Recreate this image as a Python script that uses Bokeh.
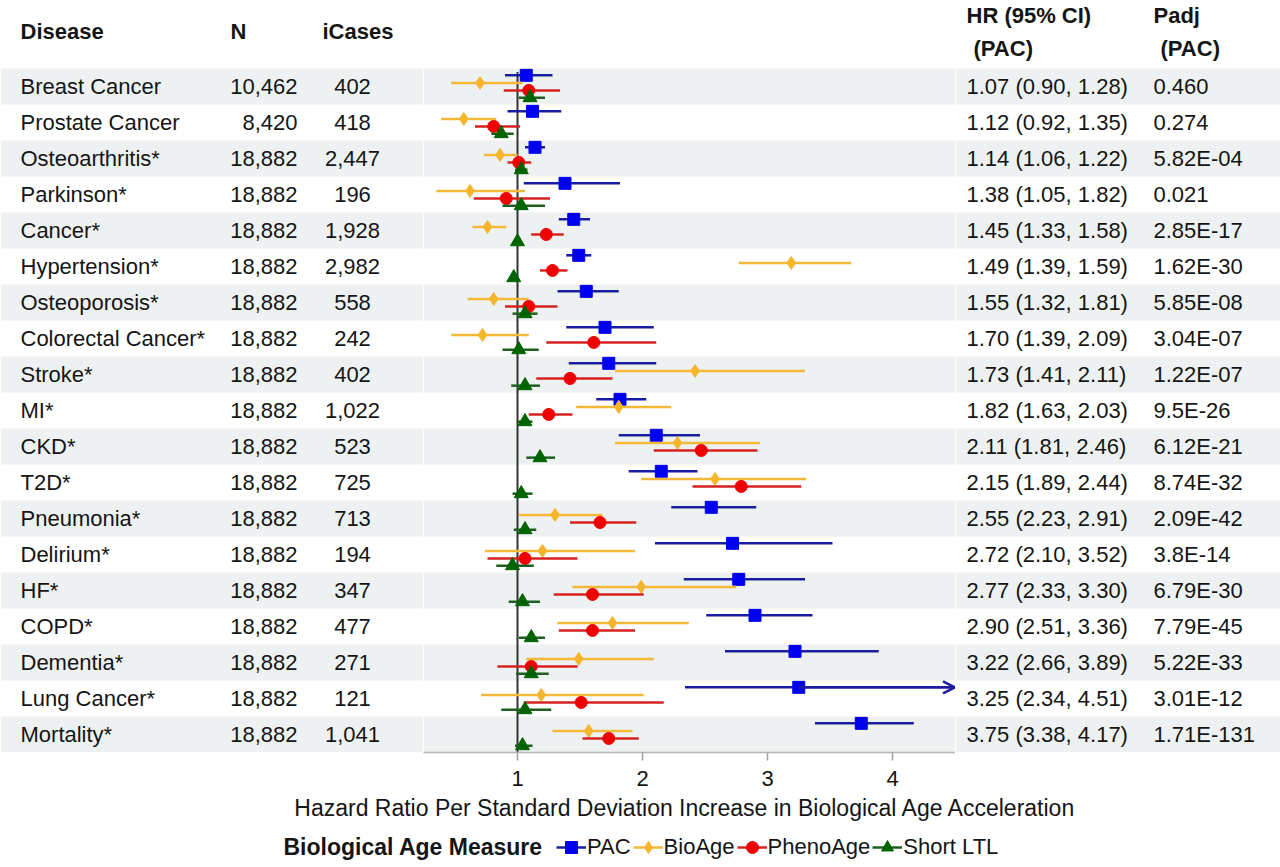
from bokeh.plotting import figure
from bokeh.layouts import row, column
from bokeh.models import (Range1d, LinearAxis, FixedTicker, ColumnDataSource,
                          Legend, LegendItem, Arrow, OpenHead)
from bokeh.core.properties import value
from bokeh.embed import file_html
from bokeh.resources import INLINE

# ---------------- data ----------------
diseases = ["Breast Cancer", "Prostate Cancer", "Osteoarthritis*", "Parkinson*", "Cancer*",
            "Hypertension*", "Osteoporosis*", "Colorectal Cancer*", "Stroke*", "MI*", "CKD*",
            "T2D*", "Pneumonia*", "Delirium*", "HF*", "COPD*", "Dementia*", "Lung Cancer*",
            "Mortality*"]
n_total = ["10,462", "8,420"] + ["18,882"] * 17
icases = ["402", "418", "2,447", "196", "1,928", "2,982", "558", "242", "402", "1,022", "523",
          "725", "713", "194", "347", "477", "271", "121", "1,041"]
padj = ["0.460", "0.274", "5.82E-04", "0.021", "2.85E-17", "1.62E-30", "5.85E-08", "3.04E-07",
        "1.22E-07", "9.5E-26", "6.12E-21", "8.74E-32", "2.09E-42", "3.8E-14", "6.79E-30",
        "7.79E-45", "5.22E-33", "3.01E-12", "1.71E-131"]

pac_hr = [1.07, 1.12, 1.14, 1.38, 1.45, 1.49, 1.55, 1.70, 1.73, 1.82, 2.11, 2.15, 2.55, 2.72, 2.77, 2.90, 3.22, 3.25, 3.75]
pac_lo = [0.90, 0.92, 1.06, 1.05, 1.33, 1.39, 1.32, 1.39, 1.41, 1.63, 1.81, 1.89, 2.23, 2.10, 2.33, 2.51, 2.66, 2.34, 3.38]
pac_hi = [1.28, 1.35, 1.22, 1.82, 1.58, 1.59, 1.81, 2.09, 2.11, 2.03, 2.46, 2.44, 2.91, 3.52, 3.30, 3.36, 3.89, 4.51, 4.17]

bio_hr = [0.70, 0.57, 0.86, 0.62, 0.76, 3.19, 0.81, 0.72, 2.42, 1.81, 2.28, 2.58, 1.30, 1.20, 1.99, 1.76, 1.49, 1.19, 1.57]
bio_lo = [0.47, 0.39, 0.73, 0.35, 0.64, 2.77, 0.60, 0.47, 1.78, 1.47, 1.78, 1.99, 1.01, 0.74, 1.44, 1.32, 1.07, 0.71, 1.28]
bio_hi = [1.04, 0.83, 1.00, 1.06, 0.91, 3.67, 1.09, 1.09, 3.30, 2.23, 2.94, 3.31, 1.68, 1.94, 2.75, 2.37, 2.09, 2.01, 1.92]

pheno_hr = [1.09, 0.81, 1.01, 0.91, 1.23, 1.28, 1.09, 1.61, 1.42, 1.25, 2.47, 2.79, 1.66, 1.06, 1.60, 1.60, 1.11, 1.51, 1.73]
pheno_lo = [0.89, 0.66, 0.92, 0.65, 1.11, 1.18, 0.90, 1.23, 1.15, 1.09, 2.09, 2.40, 1.42, 0.76, 1.29, 1.33, 0.84, 1.05, 1.52]
pheno_hi = [1.34, 1.02, 1.11, 1.26, 1.37, 1.40, 1.32, 2.11, 1.76, 1.44, 2.92, 3.27, 1.95, 1.48, 2.01, 1.94, 1.48, 2.17, 1.97]

ltl_hr = [1.10, 0.87, 1.03, 1.03, 1.00, 0.97, 1.06, 1.01, 1.06, 1.06, 1.18, 1.03, 1.06, 0.96, 1.04, 1.11, 1.11, 1.06, 1.04]
ltl_lo = [1.01, 0.79, 0.98, 0.88, 0.97, 0.95, 0.96, 0.88, 0.95, 1.00, 1.07, 0.96, 0.97, 0.83, 0.93, 1.01, 0.99, 0.87, 0.98]
ltl_hi = [1.22, 0.97, 1.08, 1.22, 1.03, 0.99, 1.16, 1.17, 1.18, 1.12, 1.30, 1.12, 1.15, 1.13, 1.18, 1.22, 1.25, 1.27, 1.12]

ticks = [1, 2, 3, 4]
x_label = "Hazard Ratio Per Standard Deviation Increase in Biological Age Acceleration"
legend_title = "Biological Age Measure"
headers_left = ["Disease", "N", "iCases"]
headers_right = ["HR (95% CI)", "(PAC)", "Padj", "(PAC)"]

# ---------------- layout constants ----------------
FONT = "Liberation Sans"
TXT = "#151515"
STRIPE = "#EEF1F1"
FRAME_H = 752
ROW_PX = 36.0
LEFT_W, MID_W, RIGHT_W = 423, 532, 325      # page x: 0 | 423 | 955 | 1280
X_LO, X_HI = 0.248, 4.504                    # forest x range (HR)
AX_MAX = 4.5
BOTTOM = 44
STRIP_H = 867 - FRAME_H - BOTTOM
FS = "22px"

nrow = len(diseases)
rows = list(range(nrow))
stripe_rows = [r for r in rows if r % 2 == 0]
Y_BOT = nrow - 0.5
Y_TOP = Y_BOT - FRAME_H / ROW_PX

def py2y(py_page):
    return Y_TOP + py_page / ROW_PX

def make_fig(fw, xr):
    f = figure(frame_width=fw, frame_height=FRAME_H, x_range=xr, y_range=Range1d(Y_BOT, Y_TOP),
               output_backend="svg", toolbar_location=None,
               x_axis_location=None, y_axis_location=None,
               min_border_left=0, min_border_right=0, min_border_top=0, min_border_bottom=BOTTOM)
    f.outline_line_color = None
    for g in f.grid:
        g.visible = False
    f.hbar(y=stripe_rows, height=1, left=xr.start, right=xr.end, color=STRIPE, line_color=None)
    return f

def col_text(f, x, texts, align, ys=None, bold=False, size=FS):
    yy = rows if ys is None else ys
    f.text(x=[x] * len(texts), y=yy, text=texts, text_font=value(FONT),
           text_font_size=size, text_align=align, text_baseline="middle",
           text_color=TXT, text_font_style="bold" if bold else "normal")

# ---------- left table ----------
fl = make_fig(LEFT_W, Range1d(0, LEFT_W))
col_text(fl, 20, diseases, "left")
col_text(fl, 297, n_total, "right")
col_text(fl, 352, icases, "center")
hy = py2y(31)
col_text(fl, 20, [headers_left[0]], "left", [hy], bold=True)
col_text(fl, 230, [headers_left[1]], "left", [hy], bold=True)
col_text(fl, 322, [headers_left[2]], "left", [hy], bold=True)

# ---------- forest ----------
fm = make_fig(MID_W, Range1d(X_LO, X_HI))
fm.segment(x0=[1], x1=[1], y0=[-0.4], y1=[Y_BOT], line_color="#333333", line_width=2)

series = [
    ("PAC", pac_hr, pac_lo, pac_hi, -0.31, "square", 12, "#0000F0", "#1C1CA0"),
    ("BioAge", bio_hr, bio_lo, bio_hi, -0.10, "diamond", 13, "#F7B52C", "#F2B83A"),
    ("PhenoAge", pheno_hr, pheno_lo, pheno_hi, 0.11, "circle", 12, "#F00000", "#D42222"),
    ("Short LTL", ltl_hr, ltl_lo, ltl_hi, 0.31, "triangle", 14, "#006400", "#1E5E1E"),
]

for name, hr, lo, hi, off, marker, size, fc, lc in series:
    ys = [r + off for r in rows]
    hi_c = [min(h, AX_MAX) for h in hi]
    src = ColumnDataSource(dict(y=ys, hr=hr, lo=lo, hi=hi_c))
    fm.segment(x0="lo", x1="hi", y0="y", y1="y", line_color=lc, line_width=2.5, source=src)
    over = [i for i, h in enumerate(hi) if h > AX_MAX]
    if over:
        asrc = ColumnDataSource(dict(xs=[hr[i] for i in over], xe=[AX_MAX for i in over],
                                     y=[ys[i] for i in over]))
        fm.add_layout(Arrow(end=OpenHead(size=12, line_color=lc, line_width=2.5),
                            x_start="xs", y_start="y", x_end="xe", y_end="y",
                            line_color=lc, line_width=2.5, source=asrc))
    fm.scatter(x="hr", y="y", marker=marker, size=size, fill_color=fc, line_color=fc, source=src)

ax = LinearAxis(ticker=FixedTicker(ticks=ticks))
ax.axis_line_color = "#B5B5B5"
ax.axis_line_width = 1.5
ax.major_tick_line_color = "#A0A0A0"
ax.major_tick_line_width = 1.5
ax.major_tick_out = 8
ax.major_tick_in = 0
ax.minor_tick_line_color = None
ax.major_label_standoff = 10
ax.major_label_text_font = FONT
ax.major_label_text_font_size = FS
ax.major_label_text_color = TXT
fm.add_layout(ax, "below")

# ---------- right table ----------
fr = make_fig(RIGHT_W, Range1d(0, RIGHT_W))
hr_txt = [f"{h:.2f} ({l:.2f}, {u:.2f})" for h, l, u in zip(pac_hr, pac_lo, pac_hi)]
col_text(fr, 11, hr_txt, "left")
col_text(fr, 198, padj, "left")
col_text(fr, 11, [headers_right[0]], "left", [py2y(15)], bold=True)
col_text(fr, 18, [headers_right[1]], "left", [py2y(48)], bold=True)
col_text(fr, 198, [headers_right[2]], "left", [py2y(15)], bold=True)
col_text(fr, 205, [headers_right[3]], "left", [py2y(48)], bold=True)

# ---------- axis title + legend strip ----------
TOT_W = LEFT_W + MID_W + RIGHT_W
fg = figure(width=TOT_W, height=STRIP_H,
            x_range=Range1d(0, TOT_W), y_range=Range1d(STRIP_H, 0),
            output_backend="svg", toolbar_location=None,
            x_axis_location=None, y_axis_location=None,
            min_border_left=0, min_border_right=0, min_border_top=0, min_border_bottom=0)
fg.outline_line_color = None
for g in fg.grid:
    g.visible = False
fg.text(x=[(LEFT_W + LEFT_W + MID_W) / 2 - 4], y=[11], text=[x_label], text_font=value(FONT),
        text_font_size="23px", text_align="center", text_baseline="middle", text_color=TXT)
LEG_CY = 50
fg.text(x=[283], y=[LEG_CY], text=[legend_title], text_font=value(FONT), text_font_size="23px",
        text_font_style="bold", text_align="left", text_baseline="middle", text_color=TXT)

dummy = ColumnDataSource(dict(x=[-1000.0], y=[-1000.0]))
items = []
for name, hr, lo, hi, off, marker, size, fc, lc in series:
    s1 = fg.segment(x0="x", x1="x", y0="y", y1="y", line_color=lc, line_width=2.5, source=dummy)
    s2 = fg.scatter(x="x", y="y", marker=marker, size=size, fill_color=fc, line_color=fc, source=dummy)
    items.append(LegendItem(label=name, renderers=[s1, s2], index=0))

GLYPH_H, PAD = 32, 1
legend = Legend(items=items, orientation="horizontal",
                location=(556, STRIP_H - LEG_CY - (GLYPH_H + 2 * PAD) / 2),
                label_text_font=FONT, label_text_font_size=FS, label_text_color=TXT,
                glyph_width=30, glyph_height=GLYPH_H, label_standoff=1, spacing=2,
                margin=0, padding=PAD, border_line_color=None, background_fill_alpha=0)
fg.add_layout(legend)

layout = column(row(fl, fm, fr), fg)
open("out.html", "w").write(file_html(layout, INLINE))
